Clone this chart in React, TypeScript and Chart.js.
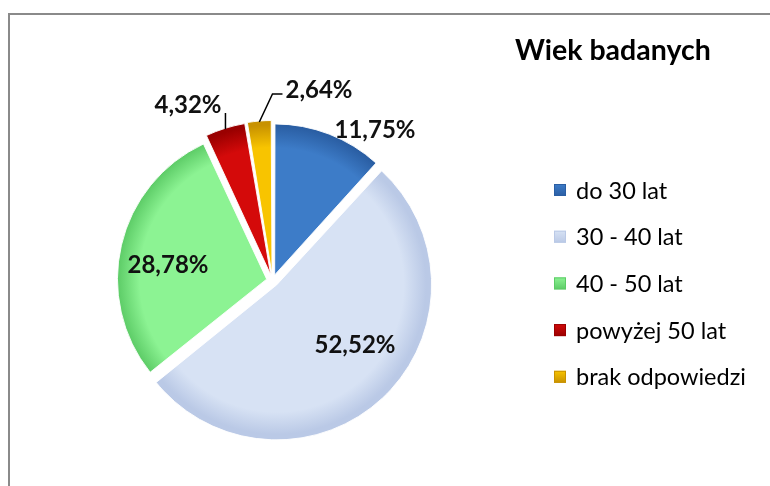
import React, { useEffect, useRef } from 'react';
import { Chart, registerables } from 'chart.js';

Chart.register(...registerables);

const title = 'Wiek badanych';
const categories = ['do 30 lat', '30 - 40 lat', '40 - 50 lat', 'powyżej 50 lat', 'brak odpowiedzi'];
const shares = [11.75, 52.52, 28.78, 4.32, 2.64];
const valueLabels = ['11,75%', '52,52%', '28,78%', '4,32%', '2,64%'];
const sliceColors = ['#3d7cc8', '#d7e2f4', '#8cf393', '#d40a0a', '#f8c400'];
const sliceEdges = ['#2a5ea3', '#bac9e6', '#5ccb66', '#9a0000', '#c89200'];

// label placement relative to the pie centre
const labelPlacement = [
  { dx: 102.5, dy: -150.5, leader: false },
  { dx: 82.5, dy: 64.5, leader: false },
  { dx: -104.5, dy: -15, leader: false },
  { dx: -84.5, dy: -175.5, leader: true },
  { dx: 46.5, dy: -190.5, leader: true },
];

const FONT = 'Lato, "Open Sans", sans-serif';

const decorPlugin = {
  id: 'decor',
  beforeDraw(chart: any) {
    const ctx = chart.ctx;
    ctx.save();
    ctx.fillStyle = '#ffffff';
    ctx.fillRect(0, 0, chart.width, chart.height);
    ctx.fillStyle = '#8a8a8a';
    ctx.fillRect(8, 13, chart.width - 8, 2);
    ctx.fillRect(8, 13, 2, chart.height - 13);
    ctx.restore();
  },
  afterDraw(chart: any) {
    const ctx = chart.ctx;
    const meta = chart.getDatasetMeta(0);
    ctx.save();
    // title
    ctx.fillStyle = '#000000';
    ctx.font = `bold 28.5px ${FONT}`;
    ctx.textBaseline = 'middle';
    ctx.textAlign = 'left';
    ctx.fillText(title, 515, 51);

    // legend
    ctx.font = `23.5px ${FONT}`;
    categories.forEach((c, i) => {
      const y = 190 + i * 46.7;
      const g = ctx.createLinearGradient(0, y - 6, 0, y + 6);
      g.addColorStop(0, sliceColors[i]);
      g.addColorStop(1, sliceEdges[i]);
      ctx.fillStyle = g;
      ctx.fillRect(554, y - 6, 12, 12);
      ctx.strokeStyle = sliceEdges[i];
      ctx.lineWidth = 1;
      ctx.strokeRect(554.5, y - 5.5, 11, 11);
      ctx.fillStyle = '#000000';
      ctx.fillText(c, 576, y + 1);
    });

    // value labels
    ctx.font = `bold 24px ${FONT}`;
    ctx.textAlign = 'center';
    meta.data.forEach((arc: any, i: number) => {
      const p = arc.getProps(['x', 'y', 'startAngle', 'endAngle', 'outerRadius', 'circumference'], true);
      const pl = labelPlacement[i];
      const lx = p.x + pl.dx;
      const ly = p.y + pl.dy;
      ctx.fillStyle = '#111111';
      ctx.fillText(valueLabels[i], lx, ly);
      if (pl.leader) {
        const mid = (p.startAngle + p.endAngle) / 2;
        const t = (arc.options.offset || 0) / 4;
        const fix = 1 - Math.sin(Math.min(Math.PI, p.circumference || 0));
        const rr = p.outerRadius + t + t * fix - 1;
        const ax = p.x + Math.cos(mid) * rr;
        const ay = p.y + Math.sin(mid) * rr;
        const w = ctx.measureText(valueLabels[i]).width;
        ctx.strokeStyle = '#000000';
        ctx.lineWidth = 1.5;
        ctx.beginPath();
        if (lx < p.x) {
          ctx.moveTo(ax, ay);
          ctx.lineTo(ax, ly + 8);
        } else {
          const sx = lx - w / 2 - 3;
          ctx.moveTo(sx, ly + 4);
          ctx.lineTo(sx - 10, ly + 4);
          ctx.lineTo(ax, ay);
        }
        ctx.stroke();
      }
    });
    ctx.restore();
  },
};

function sliceFill(context: any) {
  const chart = context.chart;
  const i = context.dataIndex;
  const area = chart.chartArea;
  if (!area) return sliceColors[i];
  const cx = (area.left + area.right) / 2;
  const cy = (area.top + area.bottom) / 2;
  const r = Math.min(area.right - area.left, area.bottom - area.top) / 2 - 12;
  const g = chart.ctx.createRadialGradient(cx, cy, 0, cx, cy, r);
  g.addColorStop(0, sliceColors[i]);
  g.addColorStop(0.85, sliceColors[i]);
  g.addColorStop(1, sliceEdges[i]);
  return g;
}

export default function App() {
  const ref = useRef<HTMLCanvasElement | null>(null);
  useEffect(() => {
    if (!ref.current) return;
    const chart = new Chart(ref.current, {
      type: 'pie',
      data: {
        labels: categories,
        datasets: [
          {
            data: shares,
            backgroundColor: sliceFill,
            borderColor: 'rgba(255,255,255,0.9)',
            borderWidth: 1,
            offset: 24,
          },
        ],
      },
      options: {
        responsive: false,
        animation: false,
        layout: { padding: { left: 111, right: 336, top: 119, bottom: 44 } },
        plugins: {
          legend: { display: false },
          tooltip: { enabled: false },
          title: { display: false },
        },
      },
      plugins: [decorPlugin],
    });
    return () => chart.destroy();
  }, []);
  return (
    <div style={{ position: 'fixed', left: 0, top: 0, width: 770, height: 486, background: '#fff' }}>
      <canvas ref={ref} width={770} height={486} style={{ display: 'block' }} />
    </div>
  );
}
